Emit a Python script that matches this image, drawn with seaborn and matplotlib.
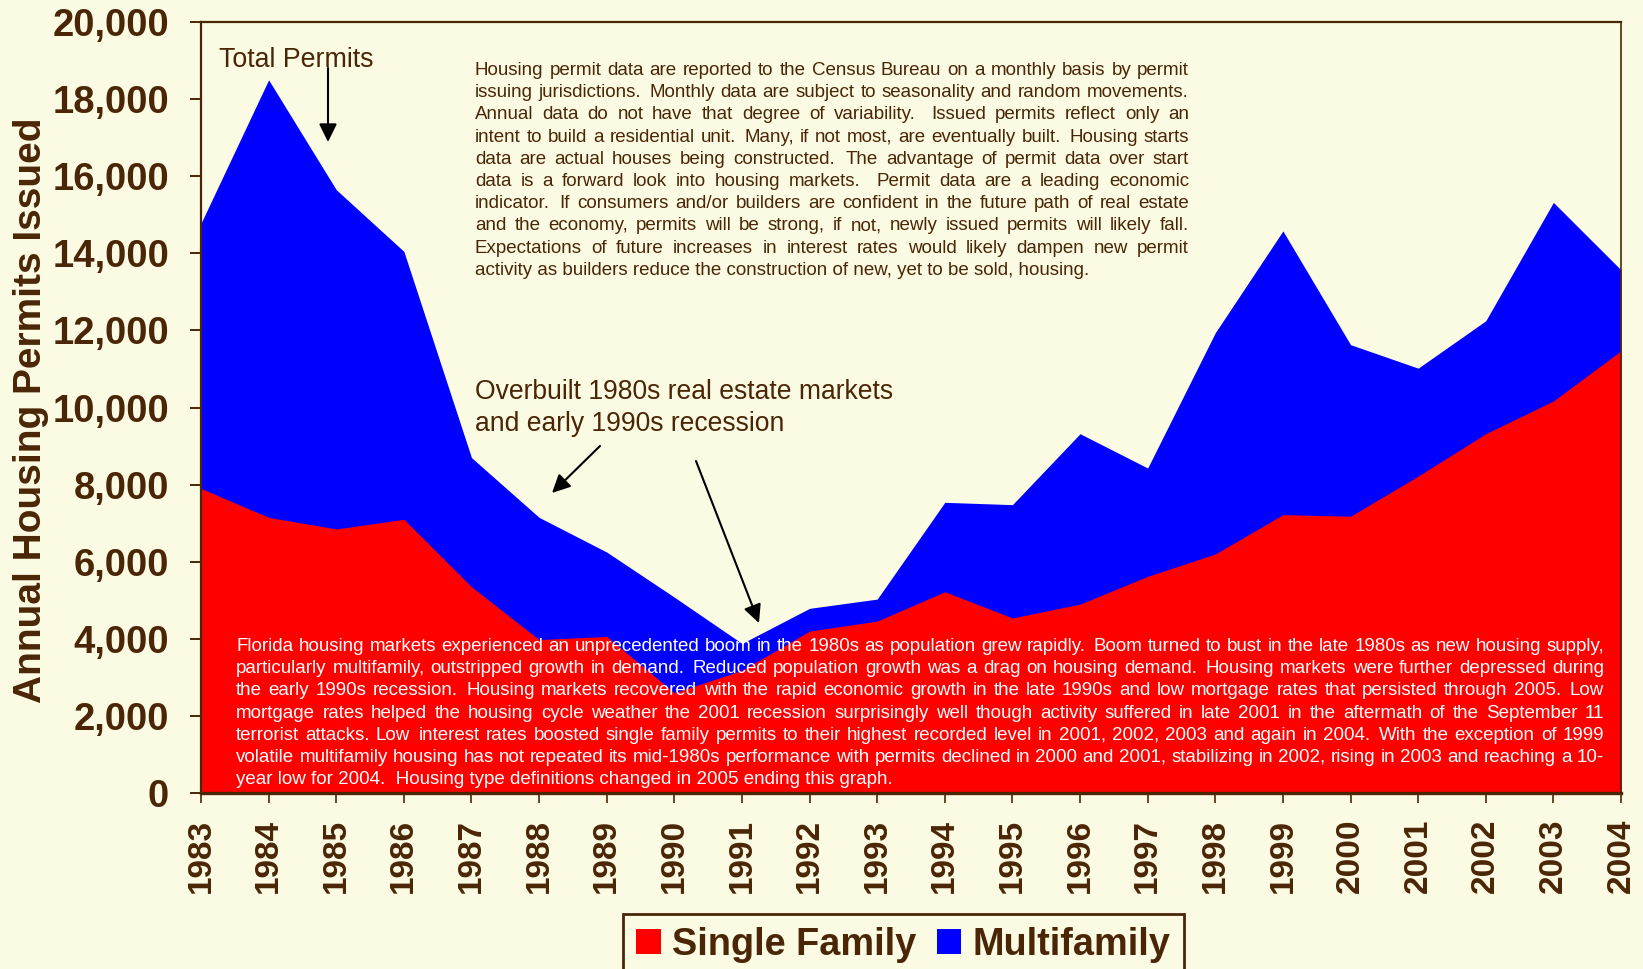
import re
import matplotlib
matplotlib.use("Agg")
import matplotlib.pyplot as plt
from matplotlib.patches import Patch
import numpy as np
import pandas as pd
import seaborn as sns

# ---------------- data ----------------
years = list(range(1983, 2005))
single_family = [7900, 7150, 6850, 7100, 5350, 3980, 4060, 2600, 3180, 4200, 4460,
                 5220, 4540, 4900, 5620, 6200, 7220, 7180, 8220, 9320, 10170, 11470]
multifamily = [6880, 11350, 8800, 6950, 3350, 3170, 2190, 2480, 700, 590, 570,
               2320, 2940, 4420, 2810, 5740, 7360, 4450, 2800, 2930, 5150, 2100]
y_ticks = [0, 2000, 4000, 6000, 8000, 10000, 12000, 14000, 16000, 18000, 20000]
series_labels = ["Single Family", "Multifamily"]
y_title = "Annual Housing Permits Issued"

top_note = [
    "Housing permit data are reported to the Census Bureau on a monthly basis by permit",
    "issuing jurisdictions.  Monthly data are subject to seasonality and random movements.",
    "Annual data do not have that degree of variability.   Issued permits reflect only an",
    "intent to build a residential unit.  Many, if not most, are eventually built.  Housing starts",
    "data are actual houses being constructed.  The advantage of permit data over start",
    "data is a forward look into housing markets.   Permit data are a leading economic",
    "indicator.  If consumers and/or builders are confident in the future path of real estate",
    "and the economy, permits will be strong, if not, newly issued permits will likely fall.",
    "Expectations of future increases in interest rates would likely dampen new permit",
    "activity as builders reduce the construction of new, yet to be sold, housing.",
]
bottom_note = [
    "Florida housing markets experienced an unprecedented boom in the 1980s as population grew rapidly.  Boom turned to bust in the late 1980s as new housing supply,",
    "particularly multifamily, outstripped growth in demand.  Reduced population growth was a drag on housing demand.  Housing markets were further depressed during",
    "the early 1990s recession.  Housing markets recovered with the rapid economic growth in the late 1990s and low mortgage rates that persisted through 2005.  Low",
    "mortgage rates helped the housing cycle weather the 2001 recession surprisingly well though activity suffered in late 2001 in the aftermath of the September 11",
    "terrorist attacks. Low  interest rates boosted single family permits to their highest recorded level in 2001, 2002, 2003 and again in 2004.  With the exception of 1999",
    "volatile multifamily housing has not repeated its mid-1980s performance with permits declined in 2000 and 2001, stabilizing in 2002, rising in 2003 and reaching a 10-",
    "year low for 2004.  Housing type definitions changed in 2005 ending this graph.",
]
total_label = "Total Permits"
overbuilt_lines = ["Overbuilt 1980s real estate markets", "and early 1990s recession"]

# ---------------- style ----------------
W, H = 1643, 969
BG = "#FBFAE3"
BROWN = "#4A2606"
RED = "#FF0000"
BLUE = "#0000FF"

sns.set_theme(style="white")
plt.rcParams["font.family"] = ["Liberation Sans", "DejaVu Sans"]

fig = plt.figure(figsize=(W / 100, H / 100), dpi=100, facecolor=BG)
ax = fig.add_axes([201 / W, 1 - 793 / H, (1621 - 201) / W, (793 - 22) / H])
ax.set_facecolor(BG)

df = pd.DataFrame({"Year": years, series_labels[0]: single_family, series_labels[1]: multifamily})
df["Total"] = df[series_labels[0]] + df[series_labels[1]]

# blue area for the whole stack, red for single family on top (no seams)
ax.fill_between(df["Year"], 0, df["Total"], color=BLUE, linewidth=0, zorder=1)
ax.fill_between(df["Year"], 0, df[series_labels[0]], color=RED, linewidth=0, zorder=2)

ax.set_xlim(years[0], years[-1])
ax.set_ylim(0, 20000)
ax.set_xticks(years)
ax.set_xticklabels([str(y) for y in years], rotation=90, fontsize=24,
                   fontweight="bold", color=BROWN)
ax.set_yticks(y_ticks)
ax.set_yticklabels([f"{v:,}" for v in y_ticks], fontsize=27.5, fontweight="bold", color=BROWN)
ax.tick_params(axis="y", direction="out", length=8, width=1.4, color=BROWN, pad=15, left=True)
ax.tick_params(axis="x", direction="out", length=7.5, width=1.2, color=BROWN, pad=11, bottom=True)
ax.grid(False)
for side, lw in [("left", 1.6), ("bottom", 2.4), ("top", 1.6), ("right", 1.2)]:
    ax.spines[side].set_visible(True)
    ax.spines[side].set_color(BROWN)
    ax.spines[side].set_linewidth(lw)
ax.spines["bottom"].set_zorder(5)


def fp(x, y):
    return (x / W, 1 - y / H)


# y axis title
fig.text(*fp(31, 410), y_title, rotation=90, ha="center", va="center",
         fontsize=28, fontweight="bold", color=BROWN)

# annotations
fig.text(*fp(219, 67), total_label, ha="left", va="baseline", fontsize=19.3, color=BROWN)
for i, ln in enumerate(overbuilt_lines):
    fig.text(*fp(475, 399 + i * 32), ln, ha="left", va="baseline", fontsize=19.1, color=BROWN)

arrow_kw = dict(arrowstyle="-|>,head_length=0.55,head_width=0.27", color="black",
                lw=1.5, mutation_scale=20, shrinkA=0, shrinkB=0)
for (x0, y0), (x1, y1) in [((328, 68), (328, 142)), ((600, 446), (552, 493)),
                           ((696, 461), (759, 623))]:
    ax.annotate("", xy=fp(x1, y1), xytext=fp(x0, y0), xycoords="figure fraction",
                textcoords="figure fraction", arrowprops=arrow_kw, zorder=6)

renderer = fig.canvas.get_renderer()


def justified(lines, x0, x1, y0, dy, size, color):
    for i, line in enumerate(lines):
        y = y0 + i * dy
        if i == len(lines) - 1:
            fig.text(*fp(x0, y), line, ha="left", va="baseline", fontsize=size,
                     color=color, zorder=7)
            continue
        parts = re.split(r"( +)", line)
        words = parts[0::2]
        spaces = [1 + 0.4 * (len(s) - 1) for s in parts[1::2]]
        objs = [fig.text(*fp(x0, y), w, ha="left", va="baseline", fontsize=size,
                         color=color, zorder=7) for w in words]
        widths = [o.get_window_extent(renderer).width for o in objs]
        unit = ((x1 - x0) - sum(widths)) / max(sum(spaces), 1)
        x = x0
        for k, (o, w) in enumerate(zip(objs, widths)):
            o.set_x(x / W)
            x += w + (spaces[k] * unit if k < len(spaces) else 0)


justified(top_note, 475, 1189, 75, 22.2, 13.5, BROWN)
justified(bottom_note, 236, 1604, 651, 22.2, 13.5, "white")

# legend
handles = [Patch(facecolor=RED, edgecolor="none", label=series_labels[0]),
           Patch(facecolor=BLUE, edgecolor="none", label=series_labels[1])]
leg = fig.legend(handles=handles, loc="upper left", bbox_to_anchor=fp(623, 914), ncol=2,
                 frameon=True, fancybox=False, edgecolor=BROWN, facecolor=BG, framealpha=1,
                 prop=dict(weight="bold", size=27.3), labelcolor=BROWN,
                 handlelength=0.64, handleheight=0.64, handletextpad=0.3,
                 columnspacing=0.55, borderpad=0.35, borderaxespad=0)
leg.get_frame().set_linewidth(2)

fig.savefig("out.png", dpi=100, facecolor=BG)
